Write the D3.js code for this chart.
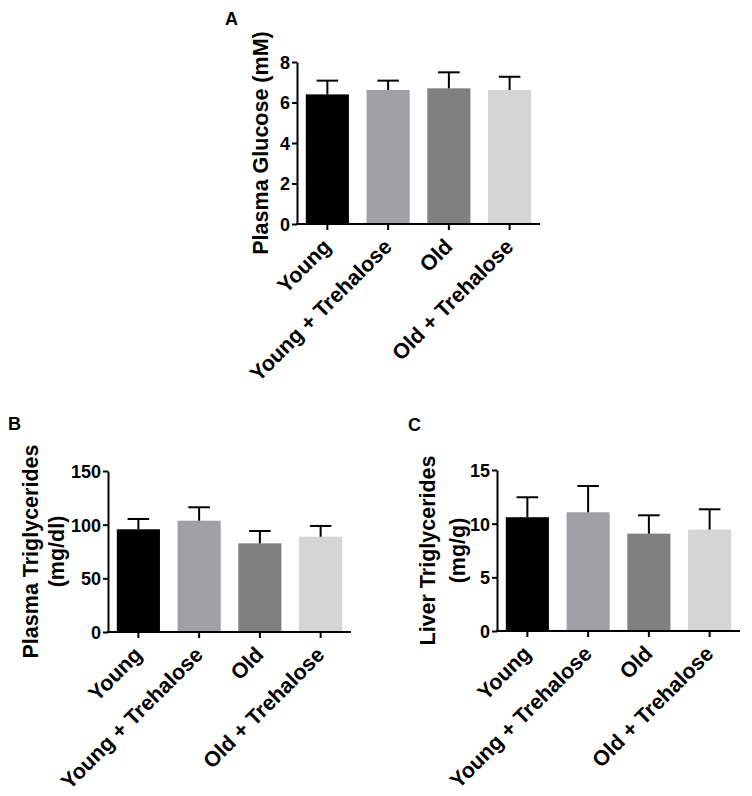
<!DOCTYPE html>
<html>
<head>
<meta charset="utf-8">
<script src="https://cdn.jsdelivr.net/npm/d3@7"></script>
<style>
  html, body { margin: 0; padding: 0; background: #fff; }
  svg text { font-family: "Liberation Sans", Arial, Helvetica, sans-serif; font-weight: bold; fill: #000; }
</style>
</head>
<body>
<svg id="fig" width="752" height="796"></svg>
<script>
// ---- data ----
const categories = ["Young", "Young + Trehalose", "Old", "Old + Trehalose"];
const barColors = ["#000000", "#a1a1a5", "#808080", "#d5d5d5"];

const glucoseMean = [6.4, 6.62, 6.7, 6.62];
const glucoseErr  = [0.68, 0.46, 0.79, 0.65];
const glucoseTicks = [0, 2, 4, 6, 8];

const plasmaTGMean = [95.7, 103.7, 82.6, 88.8];
const plasmaTGErr  = [9.6, 12.5, 11.5, 10.0];
const plasmaTGTicks = [0, 50, 100, 150];

const liverTGMean = [10.6, 11.06, 9.07, 9.44];
const liverTGErr  = [1.86, 2.45, 1.71, 1.9];
const liverTGTicks = [0, 5, 10, 15];

const svg = d3.select("#fig");

function panel(opt) {
  const g = svg.append("g");
  const x = d3.scaleBand().domain(categories).range([opt.x0, opt.x1]).paddingInner(0.29).paddingOuter(0.145);
  const yMax = opt.ticks[opt.ticks.length - 1];
  const y = d3.scaleLinear().domain([0, yMax]).range([opt.yBottom, opt.yTop]);

  // bars
  g.selectAll("rect.bar").data(categories).enter().append("rect")
    .attr("x", d => x(d))
    .attr("width", x.bandwidth())
    .attr("y", (d, i) => y(opt.mean[i]))
    .attr("height", (d, i) => y(0) - y(opt.mean[i]))
    .attr("fill", (d, i) => barColors[i]);

  // error bars (upper only)
  const capW = x.bandwidth() * 0.5;
  const eb = g.selectAll("g.err").data(categories).enter().append("g");
  eb.append("line")
    .attr("x1", d => x(d) + x.bandwidth() / 2)
    .attr("x2", d => x(d) + x.bandwidth() / 2)
    .attr("y1", (d, i) => y(opt.mean[i]))
    .attr("y2", (d, i) => y(opt.mean[i] + opt.err[i]))
    .attr("stroke", "#000").attr("stroke-width", 2);
  eb.append("line")
    .attr("x1", d => x(d) + x.bandwidth() / 2 - capW / 2)
    .attr("x2", d => x(d) + x.bandwidth() / 2 + capW / 2)
    .attr("y1", (d, i) => y(opt.mean[i] + opt.err[i]))
    .attr("y2", (d, i) => y(opt.mean[i] + opt.err[i]))
    .attr("stroke", "#000").attr("stroke-width", 2);

  // y axis
  const ya = g.append("g").attr("transform", `translate(${opt.x0},0)`)
    .call(d3.axisLeft(y).tickValues(opt.ticks).tickSize(5).tickSizeOuter(0).tickPadding(2));
  ya.selectAll("path, line").attr("stroke", "#000").attr("stroke-width", 2);
  ya.selectAll("text").style("font-size", "18px").attr("dy", "0.36em");

  // x axis
  const xa = g.append("g").attr("transform", `translate(0,${opt.yBottom})`)
    .call(d3.axisBottom(x).tickSize(6).tickSizeOuter(0));
  xa.select("path.domain").attr("d", `M${opt.x0 - 1},0H${opt.x1}`);
  xa.selectAll("path, line").attr("stroke", "#000").attr("stroke-width", 2);
  xa.selectAll("text")
    .attr("x", 0).attr("y", 0).attr("dy", 0)
    .attr("transform", "translate(5,24) rotate(-45)")
    .attr("text-anchor", "end")
    .style("font-size", "21.5px");

  // y label
  const cy = (opt.yTop + opt.yBottom) / 2;
  opt.ylabel.forEach((t, k) => {
    g.append("text")
      .attr("transform", `translate(${opt.labelX[k]},${cy}) rotate(-90)`)
      .attr("text-anchor", "middle")
      .style("font-size", "21.5px")
      .text(t);
  });

  // panel letter
  g.append("text").attr("x", opt.letterX).attr("y", opt.letterY)
    .style("font-size", "18px").text(opt.letter);
}

panel({ x0: 297, x1: 540, yTop: 62, yBottom: 224, ticks: glucoseTicks,
  mean: glucoseMean, err: glucoseErr, ylabel: ["Plasma Glucose (mM)"], labelX: [268],
  letter: "A", letterX: 225, letterY: 25 });

panel({ x0: 108, x1: 351, yTop: 471, yBottom: 632, ticks: plasmaTGTicks,
  mean: plasmaTGMean, err: plasmaTGErr, ylabel: ["Plasma Triglycerides", "(mg/dl)"], labelX: [38, 64],
  letter: "B", letterX: 8, letterY: 430 });

panel({ x0: 497, x1: 740, yTop: 470, yBottom: 631, ticks: liverTGTicks,
  mean: liverTGMean, err: liverTGErr, ylabel: ["Liver Triglycerides", "(mg/g)"], labelX: [435, 465],
  letter: "C", letterX: 408, letterY: 431 });
</script>
</body>
</html>
